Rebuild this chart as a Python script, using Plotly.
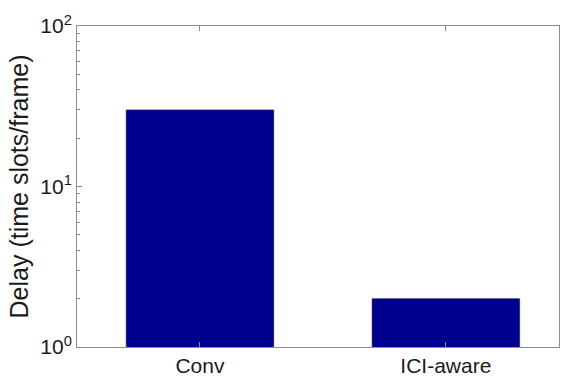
import plotly.graph_objects as go

# Average delay per scheduling scheme
schemes = ["Conv", "ICI-aware"]
delay = [30, 2]

# Decade ticks on the log axis
decades = [1, 10, 100]
decade_labels = ["10<sup>0</sup>", "10<sup>1</sup>", "10<sup>2</sup>"]
minor_ticks = [2, 3, 4, 5, 6, 7, 8, 9, 20, 30, 40, 50, 60, 70, 80, 90]

axis_grey = "#8c8c8c"

fig = go.Figure(
    go.Bar(
        x=[1, 2],
        y=delay,
        width=0.6,
        marker=dict(color="#00008F", line=dict(color="#1a1a40", width=0.6)),
    )
)

fig.update_layout(
    width=561,
    height=378,
    margin=dict(l=77, r=1, t=26, b=26),
    paper_bgcolor="white",
    plot_bgcolor="white",
    showlegend=False,
    font=dict(family="Liberation Sans, Arial, sans-serif", size=20, color="#1a1a1a"),
)

fig.update_xaxes(
    range=[0.5, 2.46],
    tickmode="array",
    tickvals=[1, 2],
    ticktext=schemes,
    ticks="inside",
    ticklen=5,
    tickcolor=axis_grey,
    showline=True,
    linecolor=axis_grey,
    linewidth=1,
    mirror="ticks",
    showgrid=False,
    zeroline=False,
    tickfont=dict(size=21),
)

fig.update_yaxes(
    type="log",
    range=[0, 2],
    tickmode="array",
    tickvals=decades,
    ticktext=decade_labels,
    ticks="inside",
    ticklen=5,
    tickcolor=axis_grey,
    showline=True,
    linecolor=axis_grey,
    linewidth=1,
    mirror=True,
    showgrid=False,
    zeroline=False,
    tickfont=dict(size=21),
    minor=dict(
        tickmode="array",
        tickvals=minor_ticks,
        ticks="inside",
        ticklen=3,
        tickcolor=axis_grey,
        showgrid=False,
    ),
    title=dict(text="Delay (time slots/frame)", font=dict(size=25), standoff=4),
)

fig.write_html("out.html")
